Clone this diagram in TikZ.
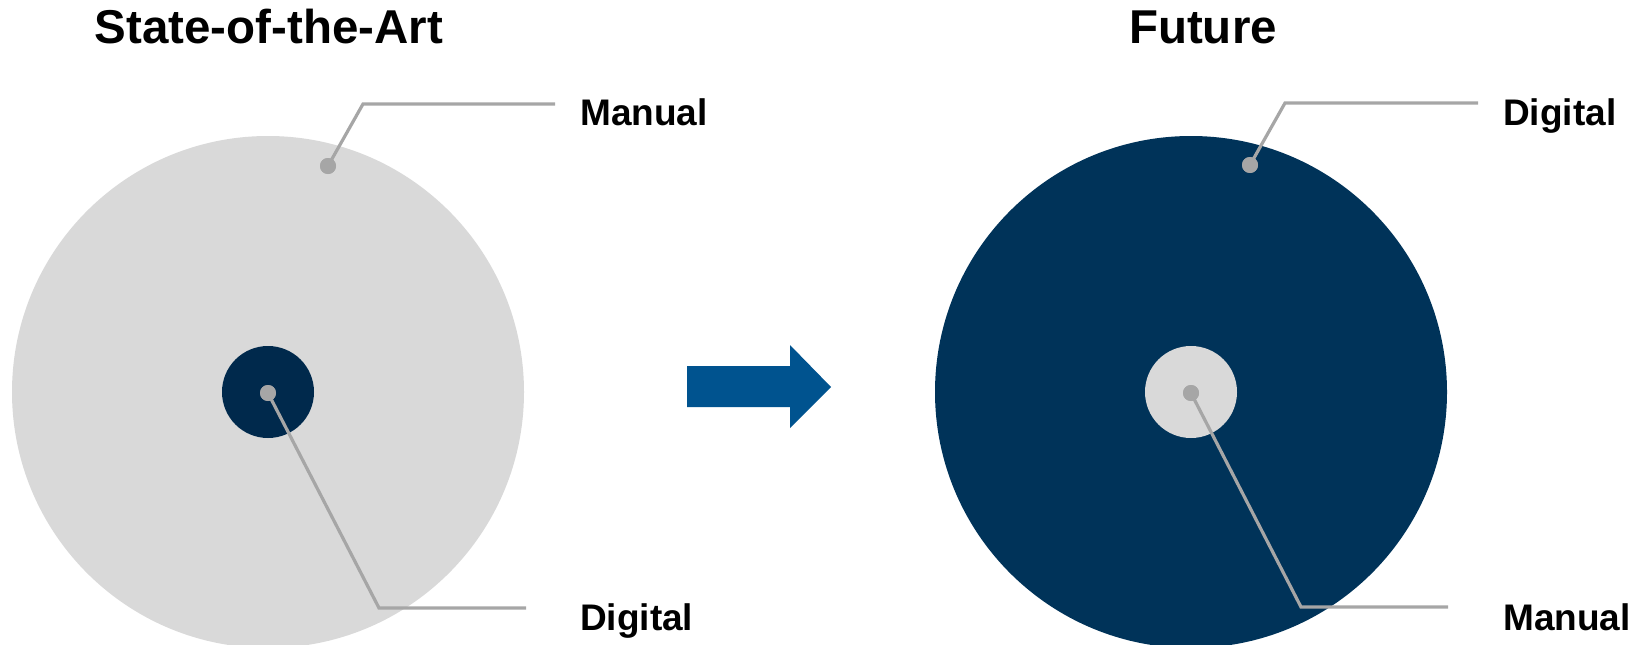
\documentclass[tikz,border=0pt]{standalone}
\usepackage{fontspec}
\setmainfont{Liberation Sans}
\definecolor{lightgrey}{HTML}{D9D9D9}
\definecolor{navy}{HTML}{003359}
\definecolor{darknavy}{HTML}{00294C}
\definecolor{arrowblue}{HTML}{00538F}
\definecolor{leadgrey}{HTML}{A6A6A6}

\begin{document}
\begin{tikzpicture}[x=1pt,y=-1pt,
	disc/.style={circle,inner sep=0pt,draw=none},
	dot/.style={circle,fill=leadgrey,inner sep=0pt,minimum size=16pt},
	leader/.style={draw=leadgrey,line width=3.2pt},
	title/.style={font=\fontsize{47.5}{50}\selectfont\bfseries,anchor=base,inner sep=0pt},
	label/.style={font=\fontsize{37}{40}\selectfont\bfseries,anchor=base west,inner sep=0pt}]
	\useasboundingbox (0,0) rectangle (1642,645);

	\node[title] (sota) at (269,43) {State-of-the-Art};
	\node[title] (future) at (1203,43) {Future};

	\node[disc,fill=lightgrey,minimum size=512pt] (bigL) at (268,392) {};
	\node[disc,fill=darknavy,minimum size=92pt] (smallL) at (268,392) {};
	\node[disc,fill=navy,minimum size=512pt] (bigR) at (1191,392) {};
	\node[disc,fill=lightgrey,minimum size=92pt] (smallR) at (1191,392) {};

	\fill[arrowblue] (687,366) -- (790,366) -- (790,345) -- (831,387)
		-- (790,428) -- (790,407) -- (687,407) -- cycle;

	\node[dot] (manL) at (328,166) {};
	\node[dot] (digL) at (268,393) {};
	\node[dot] (digR) at (1250,165) {};
	\node[dot] (manR) at (1191,393) {};

	\coordinate (manLk) at (363,104);
	\coordinate (manLe) at (555,104);
	\coordinate (digLk) at (379,608);
	\coordinate (digLe) at (526,608);
	\coordinate (digRk) at (1285,103);
	\coordinate (digRe) at (1478,103);
	\coordinate (manRk) at (1301,607);
	\coordinate (manRe) at (1448,607);

	\draw[leader] (manL.center) -- (manLk) -- (manLe);
	\draw[leader] (digL.center) -- (digLk) -- (digLe);
	\draw[leader] (digR.center) -- (digRk) -- (digRe);
	\draw[leader] (manR.center) -- (manRk) -- (manRe);
	\node[dot] at (manL) {};
	\node[dot] at (digL) {};
	\node[dot] at (digR) {};
	\node[dot] at (manR) {};

	\node[label] (manLt) at (580,125) {Manual};
	\node[label] (digLt) at (580,630) {Digital};
	\node[label] (digRt) at (1503,125) {Digital};
	\node[label] (manRt) at (1503,630) {Manual};
\end{tikzpicture}
\end{document}
